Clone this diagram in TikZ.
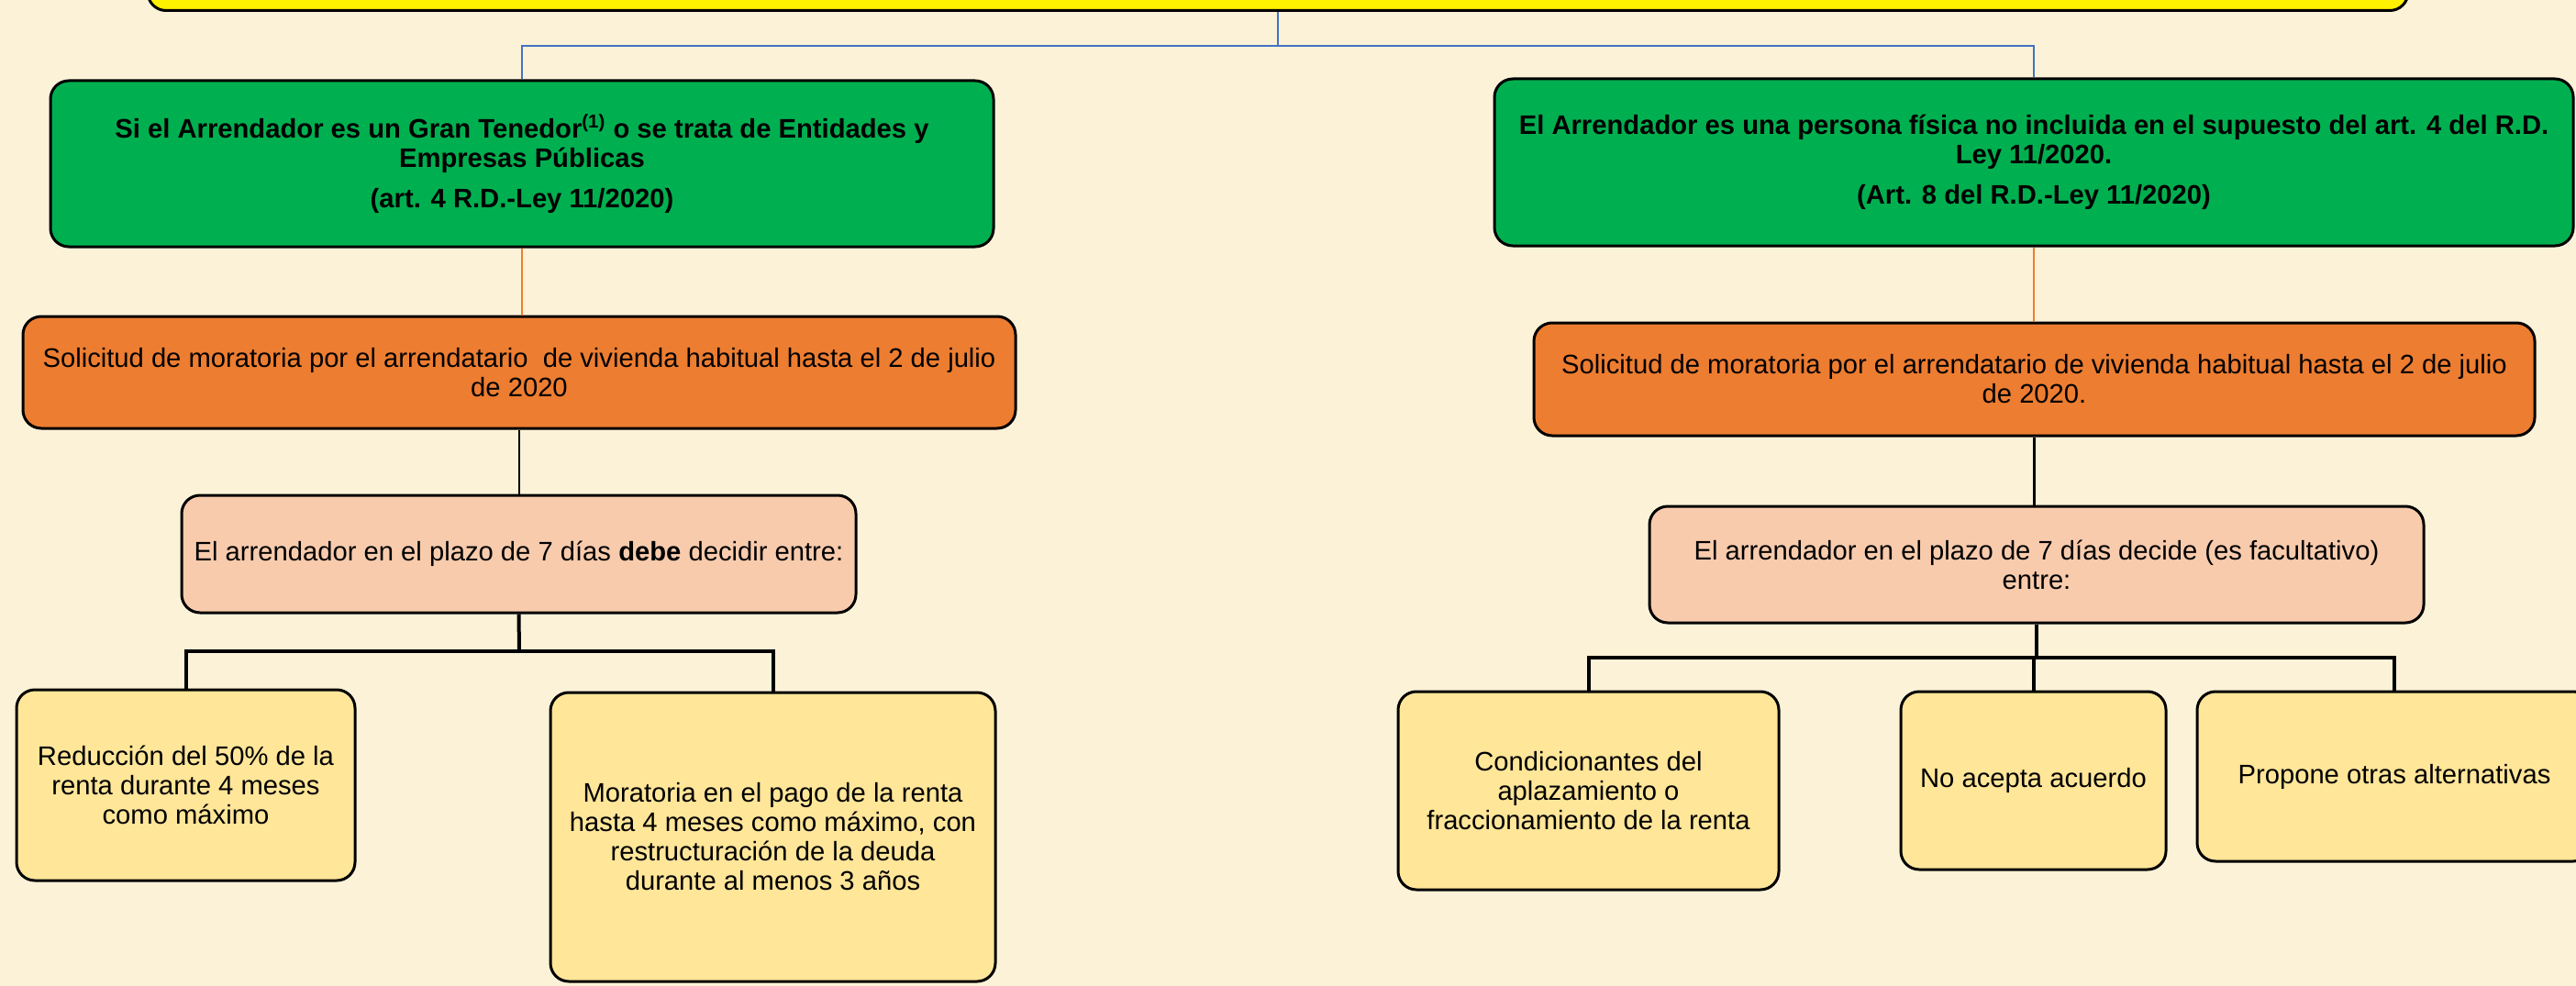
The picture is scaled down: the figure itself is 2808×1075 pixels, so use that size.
\documentclass[tikz,border=0pt]{standalone}
\usepackage{fontspec}
\setmainfont{Liberation Sans}
\definecolor{fondo}{RGB}{252,242,216}
\definecolor{verde}{RGB}{0,176,80}
\definecolor{naranja}{RGB}{237,125,49}
\definecolor{salmon}{RGB}{248,203,173}
\definecolor{crema}{RGB}{255,230,153}
\definecolor{azul}{RGB}{68,114,196}
\tikzset{
  caja/.style={draw=black, line width=1.5pt, rounded corners=10pt, align=center,
    inner sep=0pt, font=\fontsize{14.6}{16}\selectfont},
  cverde/.style={caja, fill=verde, font=\fontsize{14.6}{16}\selectfont\bfseries},
  cnaranja/.style={caja, fill=naranja},
  csalmon/.style={caja, fill=salmon},
  ccrema/.style={caja, fill=crema},
  lazul/.style={draw=azul, line width=1.3pt},
  lnaranja/.style={draw=naranja, line width=1pt},
  lnegra/.style={draw=black, line width=1.2pt},
  rama/.style={draw=black, line width=2pt}
}
\begin{document}
\begin{tikzpicture}[x=0.5pt, y=-0.5pt]
    \useasboundingbox (0,0) rectangle (2808,1075);
    \fill [fondo] (0,0) rectangle (2808,1075);
    \node [caja, fill=yellow, minimum width=1232pt, minimum height=60pt, anchor=south] (titulo) at (1393,13) {};
    \node [cverde, minimum width=514pt, minimum height=90.5pt] (gL) at (569,178.5)
        {Si el Arrendador es un Gran Tenedor\textsuperscript{(1)} o se trata de Entidades y\\
         Empresas Públicas\\[6pt] (art. 4 R.D.-Ley 11/2020)};
    \node [cverde, minimum width=588pt, minimum height=91pt] (gR) at (2217,177)
        {El Arrendador es una persona física no incluida en el supuesto del art. 4 del R.D.\\
         Ley 11/2020.\\[6pt] (Art. 8 del R.D.-Ley 11/2020)};
    \node [cnaranja, minimum width=541pt, minimum height=61pt] (oL) at (566,406)
        {Solicitud de moratoria por el arrendatario\ \ de vivienda habitual hasta el 2 de julio\\ de 2020};
    \node [cnaranja, minimum width=545.5pt, minimum height=61.5pt] (oR) at (2217.5,413.5)
        {Solicitud de moratoria por el arrendatario de vivienda habitual hasta el 2 de julio\\ de 2020.};
    \node [csalmon, minimum width=367.5pt, minimum height=64pt] (pL) at (565.5,604)
        {El arrendador en el plazo de 7 días \textbf{debe} decidir entre:};
    \node [csalmon, minimum width=422pt, minimum height=63.5pt] (pR) at (2220,615.5)
        {El arrendador en el plazo de 7 días decide (es facultativo)\\ entre:};
    \node [ccrema, minimum width=184.5pt, minimum height=104pt] (yL1) at (202.5,856)
        {Reducción del 50\% de la\\ renta durante 4 meses\\ como máximo};
    \node [ccrema, minimum width=242.5pt, minimum height=157.5pt] (yL2) at (842.5,912.5)
        {Moratoria en el pago de la renta\\ hasta 4 meses como máximo, con\\
         restructuración de la deuda\\ durante al menos 3 años};
    \node [ccrema, minimum width=207.5pt, minimum height=108pt] (yR1) at (1731.5,862)
        {Condicionantes del\\ aplazamiento o\\ fraccionamiento de la renta};
    \node [ccrema, minimum width=144.5pt, minimum height=97pt] (yR2) at (2216.5,851)
        {No acepta acuerdo};
    \node [ccrema, minimum width=215pt, minimum height=92.5pt] (yR3) at (2610,846.5)
        {Propone otras alternativas};
    \coordinate (bus) at (1393,50);
    \coordinate (ramaL) at (566,710);
    \coordinate (ramaR) at (2220,717);
    \draw [lazul] (titulo.south) -- (bus) -| (gL.north);
    \draw [lazul] (bus) -| (gR.north);
    \draw [lnaranja] (gL.south) -- (gL.south |- oL.north);
    \draw [lnaranja] (gR.south) -- (gR.south |- oR.north);
    \draw [lnegra] (oL.south) -- (oL.south |- pL.north);
    \draw [lnegra] (oR.south) -- (oR.south |- pR.north);
    \draw [rama] (pL.south) -- (ramaL);
    \draw [rama] (pR.south) -- (ramaR);
    \foreach \n in {yL1, yL2} %
        \draw [rama] (ramaL) -| (\n.north);
    \foreach \n in {yR1, yR2, yR3} %
        \draw [rama] (ramaR) -| (\n.north);
\end{tikzpicture}
\end{document}
